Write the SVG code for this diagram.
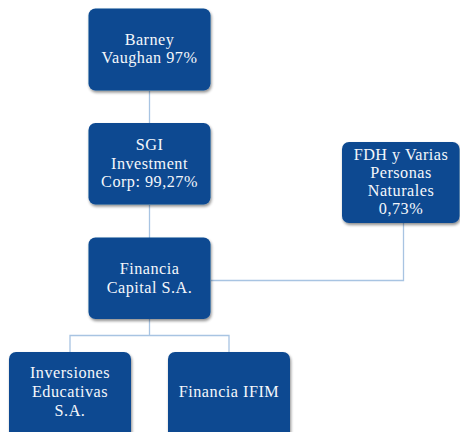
<svg xmlns="http://www.w3.org/2000/svg" width="460" height="432" viewBox="0 0 460 432">
<defs>
<filter id="sh" x="-10%" y="-10%" width="125%" height="130%">
<feGaussianBlur in="SourceAlpha" stdDeviation="1.5"/>
<feOffset dx="0.5" dy="1.5" result="b"/>
<feComponentTransfer><feFuncA type="linear" slope="0.45"/></feComponentTransfer>
<feMerge><feMergeNode/><feMergeNode in="SourceGraphic"/></feMerge>
</filter>
</defs>
<style>
.box{fill:#0c4a91;filter:url(#sh)}
.t{font-family:"Liberation Serif","DejaVu Serif",serif;font-size:16.2px;letter-spacing:0.5px;fill:#f4f7fb;text-anchor:middle}
.c{fill:none;stroke:#a8c4e2;stroke-width:1.3}
</style>
<rect width="460" height="432" fill="#ffffff"/>
<g id="connectors">
<path class="c" d="M149.5 91V123"/>
<path class="c" d="M149.5 205V238"/>
<path class="c" d="M211 280.5H403.5V223"/>
<path class="c" d="M149.5 319V335.5M70 352V335.5H229V352"/>
</g>
<g id="barney">
<rect class="box" x="88.5" y="8.5" width="122" height="82" rx="7"/>
<text class="t" x="149.5" y="45">Barney</text>
<text class="t" x="149.5" y="63">Vaughan 97%</text>
</g>
<g id="sgi">
<rect class="box" x="88.5" y="123" width="122" height="81.5" rx="7"/>
<text class="t" x="149.5" y="150">SGI</text>
<text class="t" x="149.5" y="168.5">Investment</text>
<text class="t" x="149.5" y="187">Corp: 99,27%</text>
</g>
<g id="fdh">
<rect class="box" x="342" y="142" width="117.5" height="81" rx="7"/>
<text class="t" x="401" y="159.5">FDH y Varias</text>
<text class="t" x="401" y="177.5">Personas</text>
<text class="t" x="401" y="195.5">Naturales</text>
<text class="t" x="401" y="213.5">0,73%</text>
</g>
<g id="financia-capital">
<rect class="box" x="88.5" y="237.5" width="122" height="81.5" rx="7"/>
<text class="t" x="149.5" y="274">Financia</text>
<text class="t" x="149.5" y="292.5">Capital S.A.</text>
</g>
<g id="inversiones">
<rect class="box" x="9" y="352" width="122" height="90" rx="7"/>
<text class="t" x="70" y="378">Inversiones</text>
<text class="t" x="70" y="397">Educativas</text>
<text class="t" x="70" y="416">S.A.</text>
</g>
<g id="ifim">
<rect class="box" x="168" y="352" width="122" height="90" rx="7"/>
<text class="t" x="229" y="397">Financia IFIM</text>
</g>
</svg>
